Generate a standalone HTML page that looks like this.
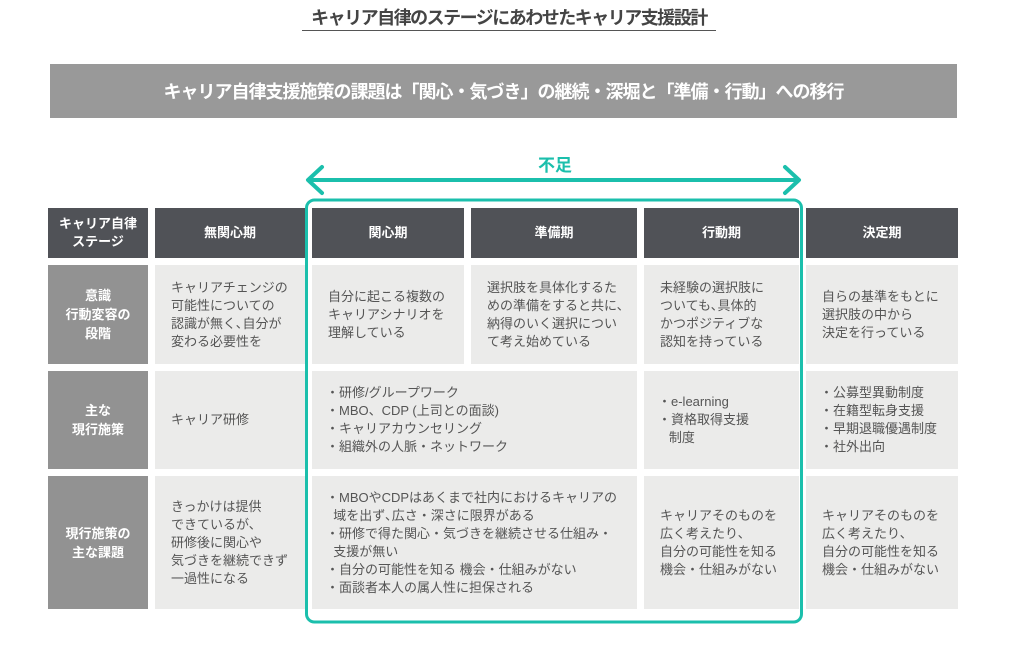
<!DOCTYPE html>
<html><head><meta charset="utf-8"><style>
body{margin:0;width:1024px;height:664px;background:#fff;position:relative;overflow:hidden;font-family:"Liberation Sans","Noto Sans CJK JP",sans-serif;}
.a{position:absolute;box-sizing:border-box;}
.h{background:#505257;color:#fff;font-weight:bold;font-size:13px;display:flex;align-items:center;justify-content:center;text-align:center;line-height:18px;}
.l{background:#929292;color:#fff;font-weight:bold;font-size:13px;display:flex;align-items:center;justify-content:center;text-align:center;line-height:19px;}
.c{background:#ebebea;color:#555;font-size:13px;line-height:18px;display:flex;align-items:center;padding-left:16px;white-space:nowrap;}
</style></head><body>
<div class="a" style="left:302px;top:7px;width:414px;text-align:center;font-size:18px;font-weight:bold;letter-spacing:-1.5px;white-space:nowrap;color:#444;line-height:23px;border-bottom:1.5px solid #555;">キャリア自律のステージにあわせたキャリア支援設計</div>
<div class="a" style="left:50px;top:64px;width:907px;height:54px;background:#999;color:#fff;font-weight:bold;font-size:18px;letter-spacing:-1px;white-space:nowrap;display:flex;align-items:center;justify-content:center;">キャリア自律支援施策の課題は「関心・気づき」の継続・深堀と「準備・行動」への移行</div>
<div class="a" style="left:530px;top:151px;width:50px;text-align:center;color:#1bbfac;font-weight:bold;font-size:17px;">不足</div>
<svg class="a" style="left:0;top:0" width="1024" height="664">
<g stroke="#1bbfac" stroke-width="4" fill="none" stroke-linecap="round" stroke-linejoin="round">
<line x1="309" y1="180" x2="798" y2="180"/>
<polyline points="322,167 308,180 322,193"/>
<polyline points="785,167 799,180 785,193"/>
</g>
<rect x="306.5" y="200" width="495" height="422" rx="8" fill="none" stroke="#1bbfac" stroke-width="3"/>
</svg>
<div class="a h" style="left:48px;top:208px;width:100px;height:50px;">キャリア自律<br>ステージ</div>
<div class="a h" style="left:155px;top:208px;width:150px;height:50px;">無関心期</div>
<div class="a h" style="left:312px;top:208px;width:152px;height:50px;">関心期</div>
<div class="a h" style="left:471px;top:208px;width:166px;height:50px;">準備期</div>
<div class="a h" style="left:644px;top:208px;width:155px;height:50px;">行動期</div>
<div class="a h" style="left:806px;top:208px;width:152px;height:50px;">決定期</div>

<div class="a l" style="left:48px;top:265px;width:100px;height:99px;">意識<br>行動変容の<br>段階</div>
<div class="a c" style="left:155px;top:265px;width:150px;height:99px;">キャリアチェンジの<br>可能性についての<br>認識が無く､自分が<br>変わる必要性を</div>
<div class="a c" style="left:312px;top:265px;width:152px;height:99px;">自分に起こる複数の<br>キャリアシナリオを<br>理解している</div>
<div class="a c" style="left:471px;top:265px;width:166px;height:99px;">選択肢を具体化するた<br>めの準備をすると共に､<br>納得のいく選択につい<br>て考え始めている</div>
<div class="a c" style="left:644px;top:265px;width:155px;height:99px;">未経験の選択肢に<br>ついても､具体的<br>かつポジティブな<br>認知を持っている</div>
<div class="a c" style="left:806px;top:265px;width:152px;height:99px;">自らの基準をもとに<br>選択肢の中から<br>決定を行っている</div>

<div class="a l" style="left:48px;top:371px;width:100px;height:98px;">主な<br>現行施策</div>
<div class="a c" style="left:155px;top:371px;width:150px;height:98px;">キャリア研修</div>
<div class="a c" style="left:312px;top:371px;width:325px;height:98px;padding-left:14px;">・研修/グループワーク<br>・MBO、CDP (上司との面談)<br>・キャリアカウンセリング<br>・組織外の人脈・ネットワーク</div>
<div class="a c" style="left:644px;top:371px;width:155px;height:98px;padding-left:14px;">・e-learning<br>・資格取得支援<br>&nbsp;&nbsp;&nbsp;制度</div>
<div class="a c" style="left:806px;top:371px;width:152px;height:98px;padding-left:14px;">・公募型異動制度<br>・在籍型転身支援<br>・早期退職優遇制度<br>・社外出向</div>

<div class="a l" style="left:48px;top:476px;width:100px;height:133px;">現行施策の<br>主な課題</div>
<div class="a c" style="left:155px;top:476px;width:150px;height:133px;">きっかけは提供<br>できているが､<br>研修後に関心や<br>気づきを継続できず<br>一過性になる</div>
<div class="a c" style="left:312px;top:476px;width:325px;height:133px;padding-left:14px;">・MBOやCDPはあくまで社内におけるキャリアの<br>&nbsp;&nbsp;域を出ず､広さ・深さに限界がある<br>・研修で得た関心・気づきを継続させる仕組み・<br>&nbsp;&nbsp;支援が無い<br>・自分の可能性を知る 機会・仕組みがない<br>・面談者本人の属人性に担保される</div>
<div class="a c" style="left:644px;top:476px;width:155px;height:133px;">キャリアそのものを<br>広く考えたり､<br>自分の可能性を知る<br>機会・仕組みがない</div>
<div class="a c" style="left:806px;top:476px;width:152px;height:133px;">キャリアそのものを<br>広く考えたり､<br>自分の可能性を知る<br>機会・仕組みがない</div>
</body></html>
